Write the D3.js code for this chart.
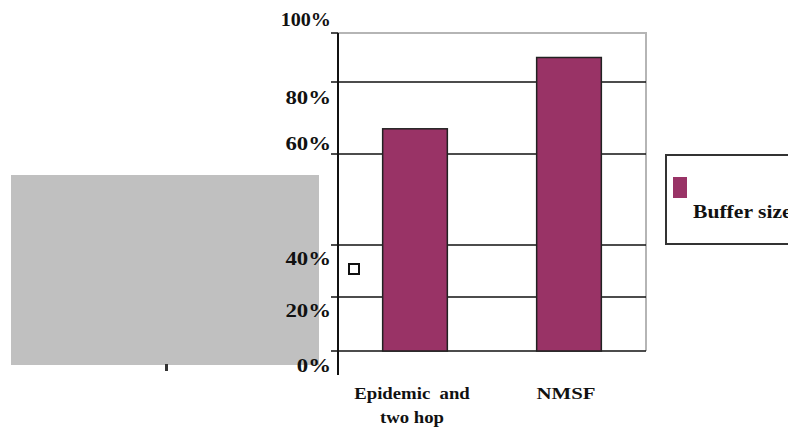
<!DOCTYPE html>
<html>
<head>
    <meta charset="utf-8">
    <title>Buffer size</title>
    <script src="https://d3js.org/d3.v7.min.js"></script>
    <style>
        body { margin: 0; background: #fff; }
        text { font-family: "Liberation Serif", "DejaVu Serif", serif; font-weight: bold; fill: #111; }
    </style>
</head>
<body>
<svg id="chart" width="788" height="428"></svg>

<script>
    var categories = ["Epidemic  and|two hop", "NMSF"];
    var bufferSize = [67, 90];
    var tickValues = [0, 20, 40, 60, 80, 100];
    var tickLabels = ["0%", "20%", "40%", "60%", "80%", "100%"];
    var seriesName = "Buffer size";

    var svg = d3.select("#chart");
    var barColor = "#993366";

    // the source text looks a bit stretched sideways
    function stretch(sel, k) {
        sel.each(function() {
            var w = this.getComputedTextLength();
            d3.select(this)
                .attr("textLength", w * k)
                .attr("lengthAdjust", "spacingAndGlyphs");
        });
    }

    // grey block on the left
    svg.append("rect")
        .attr("x", 11).attr("y", 175)
        .attr("width", 308).attr("height", 190)
        .style("fill", "#c0c0c0");
    svg.append("rect")
        .attr("x", 165).attr("y", 364)
        .attr("width", 3).attr("height", 7)
        .style("fill", "#333");

    // uneven gridline spacing, as in the picture
    var y = d3.scaleLinear()
        .domain(tickValues)
        .range([351, 297, 245, 154, 82, 33]);
    var yLabel = d3.scaleLinear()
        .domain(tickValues)
        .range([365, 310, 258, 143, 97, 19]);

    var x = d3.scaleBand()
        .domain(categories)
        .range([338, 646])
        .paddingInner(0.58)
        .paddingOuter(0.29);

    // plot frame (top and right, grey)
    svg.append("path")
        .attr("d", "M338,33H646V351")
        .style("fill", "none")
        .style("stroke", "#b5b5b5")
        .style("stroke-width", 2);

    // gridlines
    svg.append("g")
        .selectAll("line")
        .data(tickValues.filter(function(d) { return d < 100; }))
        .enter().append("line")
        .attr("x1", 331).attr("x2", 646)
        .attr("y1", function(d) { return y(d); })
        .attr("y2", function(d) { return y(d); })
        .style("stroke", "#111")
        .style("stroke-width", 1.5);

    svg.append("line")
        .attr("x1", 331).attr("x2", 338)
        .attr("y1", y(100)).attr("y2", y(100))
        .style("stroke", "#111").style("stroke-width", 1.5);

    // bars
    svg.append("g")
        .selectAll("rect")
        .data(bufferSize)
        .enter().append("rect")
        .attr("x", function(d, i) { return x(categories[i]); })
        .attr("y", function(d) { return y(d); })
        .attr("width", x.bandwidth())
        .attr("height", function(d) { return y(0) - y(d); })
        .style("fill", barColor)
        .style("stroke", "#222")
        .style("stroke-width", 1.5);

    // y axis line
    svg.append("line")
        .attr("x1", 338).attr("x2", 338)
        .attr("y1", 33).attr("y2", 375)
        .style("stroke", "#111")
        .style("stroke-width", 2);

    // tick labels
    var yt = svg.append("g")
        .selectAll("text")
        .data(tickValues)
        .enter().append("text")
        .attr("x", 331)
        .attr("y", function(d) { return yLabel(d); })
        .attr("dy", "0.35em")
        .attr("text-anchor", "end")
        .style("font-size", "19px")
        .text(function(d, i) { return tickLabels[i]; });
    stretch(yt.filter(function(d) { return d < 100; }), 1.2);
    stretch(yt.filter(function(d) { return d === 100; }), 1.06);

    // category labels
    categories.forEach(function(c) {
        var t = svg.append("text")
            .attr("text-anchor", "middle")
            .style("font-size", "16px")
            .style("white-space", "pre");
        c.split("|").forEach(function(line, j) {
            t.append("tspan")
                .attr("x", x(c) + x.bandwidth() / 2 - 3)
                .attr("y", 399 + j * 24)
                .text(line);
        });
        stretch(t.selectAll("tspan"), c === "NMSF" ? 1.3 : 1.17);
    });

    // small open square marker
    svg.append("rect")
        .attr("x", 349).attr("y", 264)
        .attr("width", 10).attr("height", 10)
        .style("fill", "#fff")
        .style("stroke", "#111")
        .style("stroke-width", 2);

    // legend
    svg.append("rect")
        .attr("x", 666).attr("y", 155)
        .attr("width", 130).attr("height", 89)
        .style("fill", "#fff")
        .style("stroke", "#333")
        .style("stroke-width", 2);
    svg.append("rect")
        .attr("x", 673).attr("y", 177)
        .attr("width", 14).attr("height", 21)
        .style("fill", barColor);
    var lt = svg.append("text")
        .attr("x", 693).attr("y", 218)
        .style("font-size", "18px")
        .text(seriesName);
    stretch(lt, 1.2);
</script>
</body>
</html>
